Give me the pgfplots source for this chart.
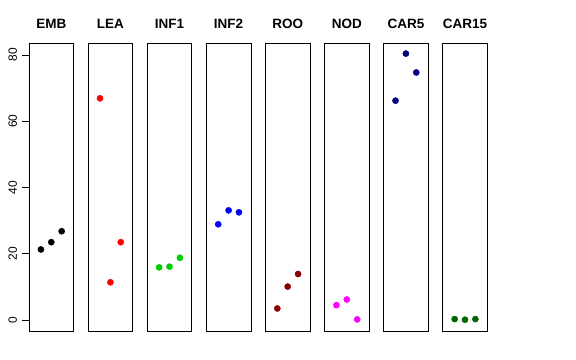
\documentclass[border=0pt]{standalone}
\usepackage{pgfplots}
\pgfplotsset{compat=1.18}
\usepackage{fontspec}
\setmainfont{Liberation Sans}
\definecolor{rgreen}{HTML}{00CD00}
\definecolor{rdarkred}{HTML}{8B0000}
\definecolor{rnavy}{HTML}{000080}
\definecolor{rdarkgreen}{HTML}{006400}
\definecolor{rmagenta}{HTML}{FF00FF}
\pgfplotsset{
  panel/.style={
    scale only axis, width=44.6bp, height=287.7bp,
    xmin=-0.15, xmax=4.15, ymin=-3.3, ymax=83.5,
    xtick=\empty, ytick=\empty,
    axis line style={black, line width=0.8bp},
    anchor=south west,
    title style={at={(0.5,1)}, anchor=base, yshift=9.3bp, font=\fontsize{13.5bp}{15bp}\selectfont\bfseries},
  },
  dots/.style={only marks, mark=*, mark size=3.1bp, mark options={draw=#1, fill=#1}, color=#1},
}
\begin{document}
\begin{tikzpicture}
\useasboundingbox (0,0) rectangle (576bp,360bp);
\begin{axis}[panel, at={(29bp,29bp)}, title={EMB}, clip=false,
  ytick={0,20,40,60,80}, tick align=outside, ytick pos=left, major tick length=7bp,
  every tick/.style={black, line width=0.8bp},
  yticklabel style={xshift=-4.8bp, rotate=90, anchor=south, inner sep=0pt, font=\fontsize{12bp}{14bp}\selectfont},
  /pgf/number format/assume math mode=true]
\addplot[only marks, mark=-, mark size=3.5bp, mark options={draw=black, line width=0.8bp}, forget plot]
  coordinates {(-0.4875,0) (-0.4875,20) (-0.4875,40) (-0.4875,60) (-0.4875,80)};
\addplot[dots=black] coordinates {(1,21.3) (2,23.5) (3,26.8)};
\end{axis}
\begin{axis}[panel, at={(88.1bp,29bp)}, title={LEA}]
\addplot[dots=red] coordinates {(1,66.9) (2,11.4) (3,23.5)};
\end{axis}
\begin{axis}[panel, at={(147.2bp,29bp)}, title={INF1}]
\addplot[dots=rgreen] coordinates {(1,15.9) (2,16.1) (3,18.8)};
\end{axis}
\begin{axis}[panel, at={(206.3bp,29bp)}, title={INF2}]
\addplot[dots=blue] coordinates {(1,28.9) (2,33.1) (3,32.5)};
\end{axis}
\begin{axis}[panel, at={(265.4bp,29bp)}, title={ROO}]
\addplot[dots=rdarkred] coordinates {(1,3.5) (2,10.1) (3,13.9)};
\end{axis}
\begin{axis}[panel, at={(324.5bp,29bp)}, title={NOD}]
\addplot[dots=rmagenta] coordinates {(1,4.5) (2,6.2) (3,0.2)};
\end{axis}
\begin{axis}[panel, at={(383.6bp,29bp)}, title={CAR5}]
\addplot[dots=rnavy] coordinates {(1,66.2) (2,80.4) (3,74.7)};
\end{axis}
\begin{axis}[panel, at={(442.7bp,29bp)}, title={CAR15}]
\addplot[dots=rdarkgreen] coordinates {(1,0.3) (2,0.1) (3,0.3)};
\end{axis}
\end{tikzpicture}
\end{document}
